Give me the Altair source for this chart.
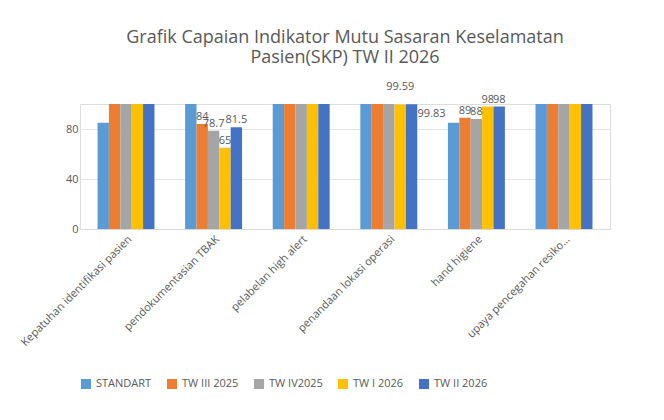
import altair as alt
import pandas as pd

categories = ["Kepatuhan identifikasi pasien", "pendokumentasian TBAK", "pelabelan high alert",
              "penandaan lokasi operasi", "hand higiene", "upaya pencegahan resiko..."]
series = ["STANDART", "TW III 2025", "TW IV2025", "TW I 2026", "TW II 2026"]
values = {
    "STANDART":    [85, 100, 100, 100, 85, 100],
    "TW III 2025": [100, 84, 100, 100, 89, 100],
    "TW IV2025":   [100, 78.7, 100, 100, 88, 100],
    "TW I 2026":   [100, 65, 100, 99.59, 98, 100],
    "TW II 2026":  [100, 81.5, 100, 99.83, 98, 100],
}
labels = {
    ("pendokumentasian TBAK", "TW III 2025"): "84",
    ("pendokumentasian TBAK", "TW IV2025"): "78.7",
    ("pendokumentasian TBAK", "TW I 2026"): "65",
    ("pendokumentasian TBAK", "TW II 2026"): "81.5",
    ("penandaan lokasi operasi", "TW I 2026"): "99.59",
    ("penandaan lokasi operasi", "TW II 2026"): "99.83",
    ("hand higiene", "TW III 2025"): "89",
    ("hand higiene", "TW IV2025"): "88",
    ("hand higiene", "TW I 2026"): "98",
    ("hand higiene", "TW II 2026"): "98",
}
colors = ["#5B9BD5", "#ED7D31", "#A5A5A5", "#FFC000", "#4472C4"]

rows = []
for s in series:
    for c, v in zip(categories, values[s]):
        rows.append({"cat": c, "series": s, "value": v, "label": labels.get((c, s), "")})
df = pd.DataFrame(rows)

x = alt.X("cat:N", sort=categories, title=None,
          scale=alt.Scale(paddingInner=0.35, paddingOuter=0.2),
          axis=alt.Axis(labelAngle=-45, labelFontSize=11, labelColor="#595959",
                        domainColor="#D9D9D9", ticks=False, labelLimit=200, labelPadding=4))
xo = alt.XOffset("series:N", sort=series)

base = alt.Chart(df).encode(x=x, xOffset=xo)
bars = base.mark_bar().encode(
    y=alt.Y("value:Q", title=None, scale=alt.Scale(domain=[0, 100]),
            axis=alt.Axis(values=list(range(0, 101, 10)), labelFontSize=11, labelColor="#595959",
                          labelOverlap=False, labelFlush=False,
                          domain=False, ticks=False, gridColor="#E5E5E5")),
    color=alt.Color("series:N", sort=series, scale=alt.Scale(domain=series, range=colors),
                    legend=alt.Legend(orient="bottom", title=None, direction="horizontal",
                                      symbolType="square", labelFontSize=11, labelColor="#595959",
                                      offset=30, columnPadding=14)),
)
txt = dict(fontSize=11, color="#595959")
t_general = base.transform_filter(
    "datum.label != '' && datum.cat != 'penandaan lokasi operasi'"
).mark_text(dy=-7, **txt).encode(y="value:Q", text="label:N")
t_9959 = base.transform_filter("datum.label == '99.59'").mark_text(dy=-18, **txt).encode(y="value:Q", text="label:N")
t_9983 = base.transform_filter("datum.label == '99.83'").mark_text(dx=20, dy=10, **txt).encode(y="value:Q", text="label:N")

chart = (bars + t_general + t_9959 + t_9983).properties(
    width=530, height=125,
    title=alt.Title(["Grafik Capaian Indikator Mutu Sasaran Keselamatan", "Pasien(SKP) TW II 2026"],
                    fontSize=18, fontWeight="normal", color="#595959", font="Open Sans",
                    offset=14, anchor="middle"),
).configure_view(stroke=None).configure(font="Open Sans", padding={"left": 10, "top": 20, "right": 10, "bottom": 10})

chart.save("out.html", embed_options={"renderer": "svg", "actions": False})
